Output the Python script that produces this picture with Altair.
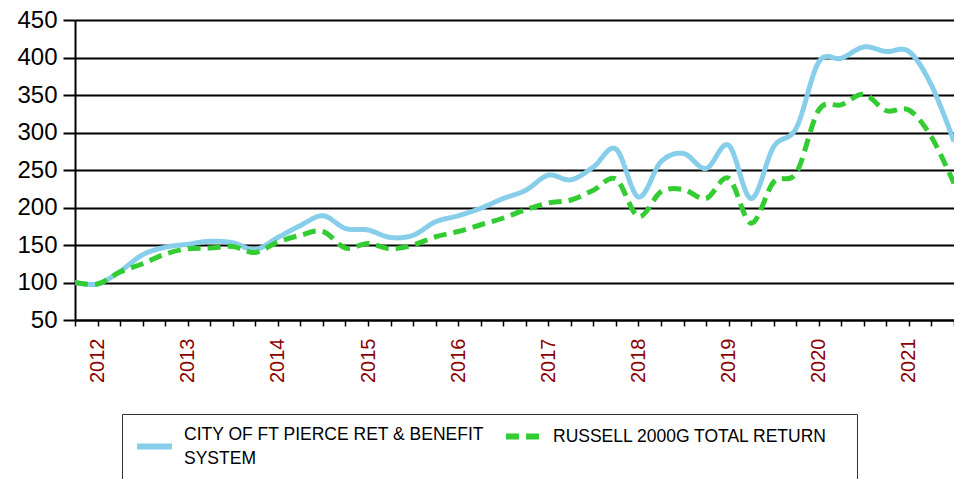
import altair as alt
import pandas as pd

# quarter index: 0 = 2011Q4, 1 = 2012Q1, ..., 39 = 2021Q3
quarters = list(range(40))
fund = [100, 98, 115, 137, 147, 151, 155, 153, 144, 160,
        176, 189, 172, 170, 160, 163, 181, 189, 199, 212,
        223, 243, 237, 254, 278, 214, 261, 272, 252, 283,
        212, 281, 306, 394, 399, 414, 408, 408, 363, 288]
bench = [100, 98, 114, 125, 138, 145, 146, 148, 140, 154,
         163, 168, 146, 152, 145, 150, 161, 168, 177, 186,
         197, 206, 210, 223, 238, 188, 221, 224, 212, 239,
         179, 234, 246, 330, 337, 351, 329, 330, 294, 232]
names = ["CITY OF FT PIERCE RET & BENEFIT SYSTEM", "RUSSELL 2000G TOTAL RETURN"]
colors = ["#87CEEB", "#33CC33"]
y_ticks = list(range(50, 451, 50))

rows = []
for q, f, b in zip(quarters, fund, bench):
    rows.append({"q": q, "value": f, "series": names[0], "series2": names[0]})
    rows.append({"q": q, "value": b, "series": names[1], "series2": names[1]})
df = pd.DataFrame(rows)

label_font = dict(labelFont="Liberation Sans", labelFontSize=17.5, labelColor="black",
                  labelLimit=900, labelOffset=9)

# first line padded (spaces kept by a trailing zero-width char) so the legend box spans both entries
line1 = "CITY OF FT PIERCE RET & BENEFIT" + " " * 74 + "\u200b"
legend_fund = alt.Legend(
    title=None, orient="none", legendX=47, legendY=394, values=[names[0]],
    padding=12, strokeColor="#333333",
    symbolType="stroke", symbolSize=1225, symbolStrokeWidth=6,
    labelBaseline="line-bottom",
    labelExpr="['" + line1 + "', 'SYSTEM']",
    **label_font,
)
legend_bench = alt.Legend(
    title=None, orient="none", legendX=428, legendY=396, values=[names[1]],
    padding=0,
    symbolType="stroke", symbolSize=1225, symbolStrokeWidth=6, symbolStrokeColor=colors[1],
    labelBaseline="middle",
    **label_font,
)

chart = alt.Chart(df).mark_line(interpolate="cardinal", strokeWidth=5, clip=True).encode(
    x=alt.X("q:Q", scale=alt.Scale(domain=[0, 39], nice=False, zero=False),
            axis=alt.Axis(values=quarters, title=None, grid=False,
                          labelExpr="datum.value % 4 == 1 ? toString(2011 + (datum.value + 3) / 4) : ''",
                          labelAngle=270, labelFont="Liberation Sans", labelFontSize=20,
                          labelColor="#8B0000", labelPadding=12, labelOverlap=False, labelFlush=False,
                          tickSize=6, tickWidth=1.5, tickColor="black",
                          domainColor="black", domainWidth=2)),
    y=alt.Y("value:Q", scale=alt.Scale(domain=[50, 450], nice=False, zero=False),
            axis=alt.Axis(values=y_ticks, title=None, grid=True, gridColor="black", gridWidth=2,
                          labelFont="Liberation Sans", labelFontSize=24, labelColor="black",
                          labelPadding=6, tickSize=12, tickWidth=2, tickColor="black",
                          domainColor="black", domainWidth=2)),
    color=alt.Color("series:N", scale=alt.Scale(domain=names, range=colors), legend=legend_fund),
    strokeDash=alt.StrokeDash("series2:N",
                              scale=alt.Scale(domain=[names[1], names[0]], range=[[13, 7], [1, 0]]),
                              legend=legend_bench),
).properties(
    width=879, height=300,
    padding={"left": 67, "top": 12, "right": 0, "bottom": 159},
    autosize=alt.AutoSizeParams(type="none"),
).configure(style={"guide-label": {"lineHeight": 24}}).configure_view(stroke=None)

chart.save("out.html", embed_options={"renderer": "svg", "actions": False})
